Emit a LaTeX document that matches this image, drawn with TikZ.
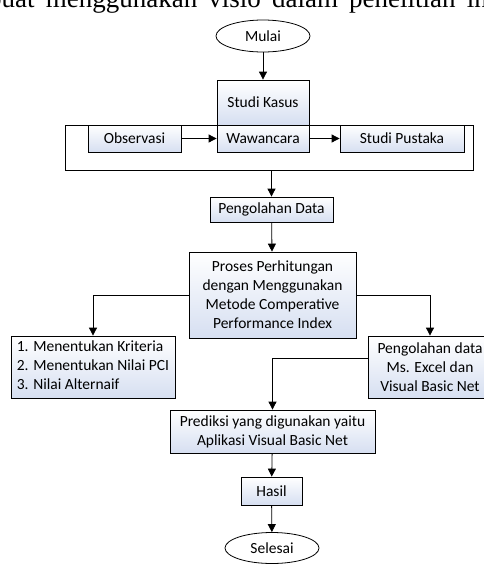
\documentclass[tikz,border=0pt]{standalone}
\usepackage{fontspec}
\setmainfont{Carlito}
\newfontfamily\bodyserif{Liberation Serif}
\usetikzlibrary{shapes.geometric,arrows.meta}
\definecolor{boxblue}{RGB}{214,223,241}
\begin{document}
\begin{tikzpicture}[x=1pt,y=-1pt,
	font=\fontsize{15.5}{19}\selectfont,
	box/.style={draw,line width=0.8pt,top color=white,bottom color=boxblue,inner sep=0pt,align=center},
	term/.style={draw,ellipse,line width=0.8pt,fill=white,inner sep=0pt,minimum width=94pt},
	arr/.style={line width=0.8pt,-{Triangle[length=8pt,width=8pt]}}]
				\useasboundingbox (0,0) rectangle (483,566);
				% cut line of the page text above the chart
				\node[anchor=base west,inner sep=0pt,font=\bodyserif\fontsize{27}{30}\selectfont] (bodyline) at (-12,7) {\makebox[507pt][s]{buat menggunakan visio dalam penelitian ini}};
				\node[term,minimum height=32pt] (mulai) at (263,36) {Mulai};
				\node[box,minimum width=92pt,minimum height=45pt] (kasus) at (263,102.5) {Studi Kasus};
				\node[draw,line width=0.8pt,fill=white,minimum width=408pt,minimum height=45pt,inner sep=0pt] (frame) at (269,147.5) {};
				\node[box,minimum width=93pt,minimum height=27pt] (obs) at (134.5,138.5) {Observasi};
				\node[box,minimum width=92pt,minimum height=27pt] (waw) at (263,138.5) {Wawancara};
				\node[box,minimum width=124pt,minimum height=27pt] (pustaka) at (402,138.5) {Studi Pustaka};
				\node[box,minimum width=123pt,minimum height=25pt] (olah) at (271.5,209.5) {Pengolahan Data};
				\node[box,minimum width=167pt,minimum height=86pt] (proses) at (272.5,295) {Proses Perhitungan\\dengan Menggunakan\\Metode Comperative\\Performance Index};
				\node[box,minimum width=164pt,minimum height=62pt] (kriteria) at (93,367) {\begin{tabular}{@{}l@{}}1. Menentukan Kriteria\\2. Menentukan Nilai PCI\\3. Nilai Alternaif\end{tabular}};
				\node[box,minimum width=124pt,minimum height=62pt] (excel) at (430,367) {Pengolahan data\\Ms. Excel dan\\Visual Basic Net};
				\node[box,minimum width=205pt,minimum height=43pt] (prediksi) at (272.5,431.5) {Prediksi yang digunakan yaitu\\Aplikasi Visual Basic Net};
				\node[box,minimum width=61pt,minimum height=28pt] (hasil) at (271.5,491) {Hasil};
				\node[term,minimum height=31pt] (selesai) at (272,548) {Selesai};
				\draw[arr] (mulai) -- (kasus);
				\draw[arr] (obs) -- (waw);
				\draw[arr] (waw) -- (pustaka);
				\draw[arr] (olah.north |- frame.south) -- (olah);
				\draw[arr] (olah) -- (proses);
				\draw[arr] (proses.west) -| (kriteria.north);
				\draw[arr] (proses.east) -| (excel.north);
				\draw[arr] ([yshift=9pt]excel.west) -| (prediksi.north);
				\draw[arr] (prediksi) -- (hasil);
				\draw[arr] (hasil) -- (selesai);
\end{tikzpicture}
\end{document}
